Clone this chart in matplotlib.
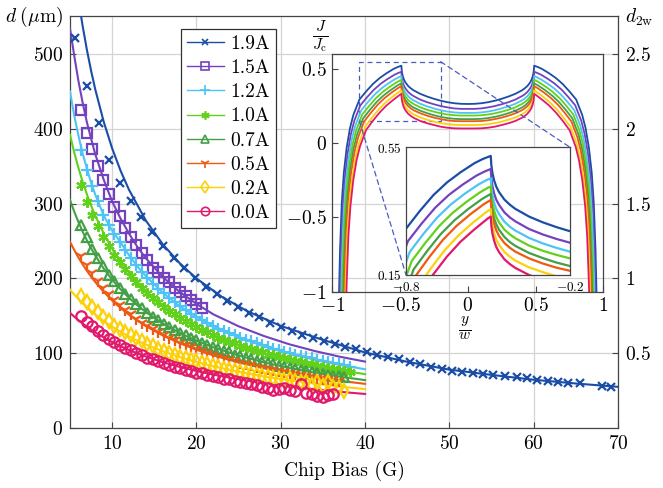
import numpy as np
import matplotlib
matplotlib.use('Agg')
import matplotlib.pyplot as plt
from matplotlib.lines import Line2D
from matplotlib.patches import Rectangle, ConnectionPatch

plt.rcParams['font.family'] = ['cmr10', 'DejaVu Serif']
plt.rcParams['mathtext.fontset'] = 'cm'
plt.rcParams['axes.formatter.use_mathtext'] = True

# ---------------- main chart data ----------------
labels = ['1.9A', '1.5A', '1.2A', '1.0A', '0.7A', '0.5A', '0.2A', '0.0A']
colors = ['#1a4ea6', '#7442bf', '#4fc3f4', '#62d11c', '#43a047', '#ee5a14', '#fdd10a', '#e2186c']
markers = ['x', 's', '+', (6, 2, 0), '^', '1', 'd', 'o']
msizes = [6, 7.5, 8.5, 7.5, 7, 9, 7.5, 7.5]

# fitted curves
fit_x_19 = [6.1, 6.5, 7, 7.5, 8, 9, 10, 11, 12, 14, 16, 18, 20, 23, 26, 30, 35, 40, 45, 50, 55, 60, 65, 70]
fit_19 = [565.8, 537.5, 505.9, 477.8, 452.6, 409.5, 373.9, 344.0, 318.5, 277.4, 245.7, 220.5, 200.0,
          175.5, 156.4, 136.5, 117.8, 101, 88.5, 78, 71, 64.5, 59.5, 55]
fit_x = [5, 5.5, 6, 6.5, 7, 7.5, 8, 9, 10, 11, 12, 13, 14, 16, 18, 20, 22, 25, 28, 31, 34, 37, 40]
fit_15 = [534, 498, 464, 435, 409, 387, 366, 332, 303, 280, 260, 242, 227, 202, 182, 166, 152, 136, 123, 112, 103, 95.3, 88.8]
fit_12 = [450, 418, 391, 367, 347, 328, 312, 284, 264, 248, 231, 216, 203, 181, 163, 148.6, 136.4, 121.5, 109.5, 99.7, 91.4, 84.5, 78.5]
fit_10 = [392, 368.6, 347.8, 329.3, 312.6, 297.5, 283.9, 260, 239.8, 222.5, 207.5, 194.5, 182.9, 163.5, 147.9, 135, 124.1, 110.7, 100, 91.1, 83.7, 77.4, 72]
fit_07 = [305, 289.4, 275.4, 262.6, 251, 240.4, 230.6, 213.2, 198.3, 185.4, 174, 163.9, 155, 139.7, 127.2, 116.7, 107.8, 96.8, 87.8, 80.3, 74, 68.7, 64]
fit_05 = [248.9, 238, 228, 218.8, 210.3, 202.4, 195.1, 182, 170.5, 160.4, 151.4, 143.4, 136.2, 123.7, 113.4, 104.6, 97.1, 87.7, 79.9, 73.4, 67.9, 63.1, 59]
fit_02 = [185, 178.5, 172.4, 166.7, 161.4, 156.4, 151.7, 143.2, 135.5, 128.6, 122.4, 116.7, 111.6, 102.6, 94.9, 88.2, 82.5, 75.1, 69, 63.8, 59.3, 55.4, 52]
fit_00 = [154, 148.9, 144.2, 139.7, 135.6, 131.6, 127.9, 121, 114.9, 109.3, 104.3, 99.7, 95.5, 88, 81.7, 76.2, 71.4, 65.2, 60, 55.6, 51.8, 48.4, 45.5]

# measured points
mx_19 = [5.6, 7.05, 8.4, 9.6, 10.9, 12.2, 13.4, 14.7, 16.0, 17.3, 18.5, 19.8, 21.1, 22.4, 23.6, 24.9, 26.2,
         27.4, 28.7, 30.0, 31.3, 32.5, 33.8, 35.1, 36.4, 37.6, 38.9, 40.2, 41.4, 42.7, 44.0, 45.3, 46.5,
         47.8, 49.1, 50.3, 51.5, 52.8, 54.0, 55.2, 56.6, 58.0, 59.2, 60.4, 61.7, 62.9, 64.1, 65.5, 68.1, 69.2]
m_19 = [522, 458, 408, 359, 328, 303, 282, 262, 243, 227, 214, 201, 189, 179, 170, 162, 154,
        148, 141, 135, 130, 125, 120, 116, 112, 108, 105, 101, 98, 95, 92, 88, 85,
        82, 79, 76, 75, 74, 72, 71, 70, 68, 66.5, 64.3, 63.4, 62, 60.7, 59.8, 56.2, 55.3]
mx = [6.35, 7.0, 7.65, 8.3, 8.95, 9.6, 10.25, 10.9, 11.55, 12.2, 12.85, 13.5, 14.15, 14.8, 15.45, 16.1,
      16.75, 17.4, 18.05, 18.7, 19.35, 20.0, 20.65, 21.3, 21.95, 22.6, 23.25, 23.9, 24.55, 25.2, 25.85,
      26.5, 27.15, 27.8, 28.45, 29.1, 29.75, 30.4, 31.05, 31.7, 32.35, 33.0, 33.65, 34.3, 34.95, 35.6,
      36.25, 36.9, 37.55, 38.2]
m_15 = [425, 395, 373, 350, 332, 313, 296, 284, 268, 255, 245, 234, 225, 214, 208, 200, 195, 187, 182, 176, 171, 166, 161]
m_12 = [372, 345, 323, 303, 285, 271, 259, 249, 238, 228, 218, 209, 201, 193, 186, 180, 174, 168, 163, 158,
        153, 149, 144, 140, 137, 133, 130, 127, 124, 121, 118, 116, 113, 111, 108, 106, 104, 102, 100, 98,
        96, 95, 93, 91, 90, 88, 87, 85, 84, 82]
m_10 = [325, 302, 285, 270, 256, 244, 232, 222, 212, 203, 195, 187, 180, 174, 168, 162, 157, 152, 147, 143,
        139, 135, 131, 128, 124, 121, 118, 115, 113, 110, 107, 105, 103, 101, 98, 97, 95, 93, 91, 89,
        88, 86, 85, 83, 82, 80, 79, 78, 76, 75]
m_07 = [272, 255, 240, 227, 216, 205, 196, 187, 179, 172, 166, 160, 154, 149, 144, 139, 135, 131, 127, 124,
        120, 117, 114, 111, 108, 106, 103, 101, 98, 96, 94, 92, 90, 88, 87, 85, 83, 82, 80, 79,
        77, 76, 75, 73, 72, 71, 70, 69, 68]
m_05 = [230, 218, 207, 196, 187, 179, 171, 164, 158, 152, 146, 141, 136, 132, 128, 124, 120, 117, 114, 111,
        108, 105, 103, 100, 98, 95, 93, 91, 89, 87, 85, 84, 82, 80, 79, 77, 76, 75, 73, 72,
        71, 70, 68, 67, 66, 65, 64, 63]
m_02 = [177, 169, 162, 155, 149, 143, 137, 132, 128, 124, 120, 116, 112, 109, 106, 103, 100, 98, 95, 93,
        91, 89, 87, 85, 83, 81, 79, 78, 76, 75, 73, 72, 71, 69, 68, 67, 65, 64, 65, 63,
        61, 62, 58, 61, 56, 62, 55, 53, 50]
m_00 = [150, 142, 136, 130, 124, 119, 115, 111, 107, 104, 100, 97, 94, 92, 89, 87, 84, 82, 80, 78,
        76, 74, 73, 71, 69, 68, 66, 65, 63, 62, 60, 59, 57, 55, 53, 51, 52, 53, 51, 50,
        59, 47, 46, 43, 42, 44, 45]

x_ticks = [10, 20, 30, 40, 50, 60, 70]
y_ticks = [0, 100, 200, 300, 400, 500]
r_ticks = [0.5, 1, 1.5, 2, 2.5]
r_ticklabels = ['$0.5$', '$1$', '$1.5$', '$2$', '$2.5$']

# ---------------- inset data (left half, mirrored) ----------------
dome_x = [
    [-0.955, -0.950, -0.943, -0.930, -0.915, -0.894, -0.870, -0.845, -0.800, -0.750, -0.700, -0.650, -0.600, -0.550, -0.520, -0.490],
    [-0.948, -0.943, -0.936, -0.923, -0.908, -0.887, -0.863, -0.838, -0.793, -0.743, -0.693, -0.643, -0.593, -0.543, -0.513, -0.490],
    [-0.941, -0.936, -0.929, -0.916, -0.901, -0.880, -0.856, -0.831, -0.786, -0.736, -0.686, -0.636, -0.586, -0.536, -0.506, -0.490],
    [-0.934, -0.929, -0.922, -0.909, -0.894, -0.873, -0.849, -0.824, -0.779, -0.729, -0.679, -0.629, -0.579, -0.529, -0.499, -0.490],
    [-0.927, -0.922, -0.915, -0.902, -0.887, -0.866, -0.842, -0.817, -0.772, -0.722, -0.672, -0.622, -0.572, -0.522, -0.490],
    [-0.920, -0.915, -0.908, -0.895, -0.880, -0.859, -0.835, -0.810, -0.765, -0.715, -0.665, -0.615, -0.565, -0.515, -0.490],
    [-0.913, -0.908, -0.901, -0.888, -0.873, -0.852, -0.828, -0.803, -0.758, -0.708, -0.658, -0.608, -0.558, -0.508, -0.490],
    [-0.906, -0.901, -0.894, -0.881, -0.866, -0.845, -0.821, -0.796, -0.751, -0.701, -0.651, -0.601, -0.551, -0.501, -0.490],
]
dome_y = [
    [-1.3, -1.0, -0.72, -0.40, -0.20, -0.03, 0.10, 0.19, 0.295, 0.35, 0.40, 0.44, 0.472, 0.50, 0.513, 0.523],
    [-1.339, -1.039, -0.759, -0.439, -0.239, -0.069, 0.061, 0.151, 0.256, 0.311, 0.361, 0.401, 0.433, 0.461, 0.474, 0.482],
    [-1.375, -1.075, -0.795, -0.475, -0.274, -0.104, 0.027, 0.117, 0.223, 0.279, 0.330, 0.371, 0.404, 0.433, 0.447, 0.453],
    [-1.407, -1.107, -0.826, -0.506, -0.305, -0.134, -0.003, 0.088, 0.194, 0.251, 0.303, 0.345, 0.379, 0.409, 0.424, 0.427],
    [-1.436, -1.136, -0.856, -0.535, -0.334, -0.163, -0.031, 0.060, 0.168, 0.226, 0.279, 0.322, 0.357, 0.388, 0.404],
    [-1.460, -1.160, -0.879, -0.558, -0.357, -0.186, -0.054, 0.038, 0.147, 0.206, 0.260, 0.304, 0.340, 0.372, 0.385],
    [-1.503, -1.202, -0.921, -0.600, -0.398, -0.225, -0.093, 0.000, 0.111, 0.172, 0.228, 0.274, 0.312, 0.346, 0.356],
    [-1.526, -1.225, -0.945, -0.623, -0.421, -0.248, -0.115, -0.022, 0.089, 0.151, 0.207, 0.254, 0.292, 0.327, 0.333],
]
inner_x = [-0.490, -0.488, -0.484, -0.478, -0.470, -0.460, -0.440, -0.420, -0.400, -0.350, -0.300, -0.250, -0.200, -0.150, -0.100, -0.050, 0.000]
inner_y = [
    [0.523, 0.495, 0.470, 0.447, 0.427, 0.410, 0.386, 0.370, 0.357, 0.333, 0.315, 0.300, 0.287, 0.277, 0.270, 0.266, 0.265],
    [0.482, 0.454, 0.429, 0.406, 0.386, 0.370, 0.346, 0.330, 0.318, 0.294, 0.277, 0.263, 0.251, 0.242, 0.235, 0.232, 0.232],
    [0.453, 0.425, 0.400, 0.377, 0.357, 0.341, 0.317, 0.301, 0.289, 0.266, 0.249, 0.235, 0.223, 0.214, 0.208, 0.205, 0.205],
    [0.427, 0.399, 0.374, 0.352, 0.332, 0.315, 0.292, 0.277, 0.265, 0.242, 0.226, 0.213, 0.202, 0.194, 0.189, 0.187, 0.187],
    [0.404, 0.376, 0.351, 0.328, 0.309, 0.292, 0.269, 0.253, 0.241, 0.219, 0.203, 0.189, 0.178, 0.170, 0.165, 0.163, 0.163],
    [0.385, 0.357, 0.332, 0.310, 0.290, 0.273, 0.250, 0.235, 0.223, 0.202, 0.186, 0.173, 0.163, 0.155, 0.150, 0.149, 0.149],
    [0.356, 0.328, 0.303, 0.281, 0.261, 0.245, 0.222, 0.207, 0.195, 0.174, 0.159, 0.146, 0.136, 0.129, 0.125, 0.123, 0.123],
    [0.333, 0.305, 0.280, 0.258, 0.238, 0.222, 0.199, 0.184, 0.172, 0.150, 0.135, 0.123, 0.112, 0.105, 0.101, 0.100, 0.100],
]
inset_xticks = [-1, -0.5, 0, 0.5, 1]
inset_xticklabels = ['$-1$', '$-0.5$', '$0$', '$0.5$', '$1$']
inset_yticks = [-1, -0.5, 0, 0.5]
inset_yticklabels = ['$-1$', '$-0.5$', '$0$', '$0.5$']
zoom_box = [-0.8, -0.2, 0.15, 0.55]

# ---------------- figure ----------------
fig = plt.figure(figsize=(6.63, 4.88), dpi=100)
ax = fig.add_axes([0.1056, 0.1230, 0.8265, 0.8442])

fits = [fit_15, fit_12, fit_10, fit_07, fit_05, fit_02, fit_00]
meas = [m_15, m_12, m_10, m_07, m_05, m_02, m_00]

grid_c = '#d4d4d4'
ax.set_axisbelow(True)
ax.grid(True, color=grid_c, lw=0.9)

lw_main = 1.5
ax.plot(fit_x_19, fit_19, color=colors[0], lw=lw_main, zorder=3)
for i, f in enumerate(fits):
    ax.plot(fit_x, f, color=colors[i + 1], lw=lw_main, zorder=3)

def draw_marks(xs, ys, i):
    m = markers[i]
    filled = m in ('x', '+', (6, 2, 0), '1')
    if filled:
        ax.plot(xs, ys, ls='none', marker=m, ms=msizes[i], mew=1.6, color=colors[i], zorder=4)
    else:
        ax.plot(xs, ys, ls='none', marker=m, ms=msizes[i], mew=1.6, mec=colors[i], mfc='none', zorder=4)

draw_marks(mx_19, m_19, 0)
for i, m in enumerate(meas):
    draw_marks(mx[:len(m)], m, i + 1)

ax.set_xlim(5, 70)
ax.set_ylim(0, 551)
ax.set_xticks(x_ticks)
ax.set_yticks(y_ticks)
ax.tick_params(direction='in', length=4, labelsize=14, pad=5, color='#444444')
for s in ax.spines.values():
    s.set_color('#444444')
    s.set_linewidth(0.9)
ax.set_xlabel('Chip Bias (G)', fontsize=14, labelpad=6)
ax.text(-0.013, 0.997, r'$d\;(\mathrm{\mu m})$', transform=ax.transAxes, ha='right', va='center', fontsize=14)

ax2 = ax.twinx()
ax2.set_ylim(0, 551 / 200)
ax2.set_yticks(r_ticks)
ax2.set_yticklabels(r_ticklabels)
ax2.tick_params(direction='in', length=4, labelsize=14, pad=5, color='#444444')
for s in ax2.spines.values():
    s.set_visible(False)
ax2.text(1.013, 0.997, r'$d_{2\mathrm{w}}$', transform=ax.transAxes, ha='left', va='center', fontsize=14)

# legend
handles = []
for i in range(8):
    m = markers[i]
    filled = m in ('x', '+', (6, 2, 0), '1')
    handles.append(Line2D([0], [0], color=colors[i], lw=1.0, marker=m, ms=msizes[i] * 0.8, mew=1.2,
                          mec=colors[i], mfc=(colors[i] if filled else 'none')))
leg = ax.legend(handles, labels, loc='upper left', bbox_to_anchor=(0.202, 0.968), frameon=True,
                fancybox=False, edgecolor='#333333', framealpha=1, fontsize=14, handlelength=1.95,
                handletextpad=0.3, labelspacing=0.32, borderpad=0.3, borderaxespad=0)
leg.get_frame().set_linewidth(0.9)
leg.set_zorder(10)

# ---------------- inset ----------------
axi = fig.add_axes([0.5012, 0.4023, 0.4087, 0.4865])
axi.set_facecolor('none')

def full_curve(k):
    xl = np.array(dome_x[k] + inner_x[1:])
    yl = np.array(dome_y[k] + inner_y[k][1:])
    xf = np.concatenate([xl, -xl[-2::-1]])
    yf = np.concatenate([yl, yl[-2::-1]])
    return xf, yf

for k in range(8):
    xf, yf = full_curve(k)
    axi.plot(xf, yf, color=colors[k], lw=1.3)
axi.set_xlim(-1, 1)
axi.set_ylim(-1, 0.6)
axi.set_xticks(inset_xticks)
axi.set_xticklabels(inset_xticklabels)
axi.set_yticks(inset_yticks)
axi.set_yticklabels(inset_yticklabels)
axi.tick_params(direction='in', length=4, labelsize=14, pad=4, color='#444444')
for s in axi.spines.values():
    s.set_color('#444444')
    s.set_linewidth(0.9)
axi.text(0.487, -0.155, r'$\frac{y}{w}$', transform=axi.transAxes, ha='center', va='center', fontsize=16)
axi.text(-0.045, 1.075, r'$\frac{J}{J_\mathrm{c}}$', transform=axi.transAxes, ha='center', va='center', fontsize=16)

dash_c = '#4a5cbf'
axi.add_patch(Rectangle((zoom_box[0], zoom_box[2]), zoom_box[1] - zoom_box[0], zoom_box[3] - zoom_box[2],
                        fill=False, ec=dash_c, lw=0.9, ls=(0, (4, 3))))

# ---------------- zoomed sub-inset ----------------
axz = fig.add_axes([0.6124, 0.4365, 0.2474, 0.2617])
axz.set_facecolor('white')
for k in range(8):
    xf, yf = full_curve(k)
    axz.plot(xf, yf, color=colors[k], lw=1.6)
axz.set_xlim(zoom_box[0], zoom_box[1])
axz.set_ylim(zoom_box[2], zoom_box[3])
axz.set_xticks([zoom_box[0], zoom_box[1]])
axz.set_xticklabels(['$-0.8$', '$-0.2$'])
axz.set_yticks([zoom_box[2], zoom_box[3]])
axz.set_yticklabels(['$0.15$', '$0.55$'])
axz.tick_params(axis='x', length=0, labelsize=9.5, pad=4)
axz.tick_params(axis='y', length=0, labelsize=9.5, pad=3)
for s in axz.spines.values():
    s.set_color('#444444')
    s.set_linewidth(0.9)

c1 = ConnectionPatch(xyA=(zoom_box[1], zoom_box[3]), coordsA=axi.transData, xyB=(1, 1), coordsB=axz.transAxes,
                     color=dash_c, lw=0.9, ls=(0, (4, 3)))
c2 = ConnectionPatch(xyA=(zoom_box[0], zoom_box[2]), coordsA=axi.transData, xyB=(0, 0), coordsB=axz.transAxes,
                     color=dash_c, lw=0.9, ls=(0, (4, 3)))
fig.add_artist(c1)
fig.add_artist(c2)

fig.savefig('out.png', dpi=100)
